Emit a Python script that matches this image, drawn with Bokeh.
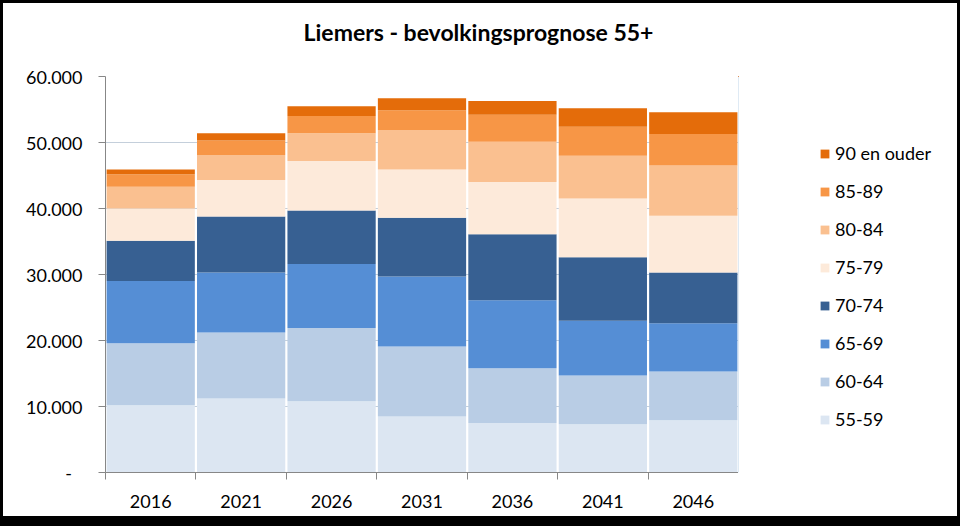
from bokeh.plotting import figure
from bokeh.layouts import row, column
from bokeh.models import Range1d, FixedTicker, Legend, LegendItem, ColumnDataSource, Label
from bokeh.embed import file_html
from bokeh.resources import INLINE

# ---- data ----
years = ["2016", "2021", "2026", "2031", "2036", "2041", "2046"]
groups = ["55-59", "60-64", "65-69", "70-74", "75-79", "80-84", "85-89", "90 en ouder"]
a55_59 = [10200, 11200, 10800, 8500, 7500, 7300, 7900]
a60_64 = [9400, 10000, 11100, 10600, 8300, 7400, 7400]
a65_69 = [9400, 9100, 9700, 10600, 10300, 8300, 7300]
a70_74 = [6100, 8500, 8100, 8900, 10000, 9600, 7700]
a75_79 = [4900, 5500, 7500, 7300, 7900, 8900, 8600]
a80_84 = [3300, 3800, 4200, 6000, 6100, 6500, 7600]
a85_89 = [1900, 2200, 2600, 3000, 4100, 4400, 4800]
a90_plus = [700, 1100, 1500, 1800, 2100, 2800, 3300]
y_ticks = [0, 10000, 20000, 30000, 40000, 50000, 60000]
title_text = "Liemers - bevolkingsprognose 55+"

colors = ["#DCE6F2", "#B9CDE5", "#558ED5", "#376092",
          "#FDEADA", "#FAC090", "#F79646", "#E46C0A"]
series = [a55_59, a60_64, a65_69, a70_74, a75_79, a80_84, a85_89, a90_plus]

xs = [i + 0.5 for i in range(len(years))]
data = {"x": xs}
keys = []
for i, s in enumerate(series):
    k = "s%d" % i
    keys.append(k)
    data[k] = s
src = ColumnDataSource(data)

FONT = "Lato"


def bare(fig):
    fig.grid.visible = False
    fig.outline_line_color = None
    fig.background_fill_alpha = 0
    fig.border_fill_alpha = 0


# ---- title strip ----
tp = figure(width=960, height=56, output_backend="svg", toolbar_location=None,
            x_range=Range1d(0, 960), y_range=Range1d(0, 56), title=None,
            x_axis_location=None, y_axis_location=None,
            min_border=0, min_border_left=0, min_border_right=0,
            min_border_top=0, min_border_bottom=0)
bare(tp)
tp.styles = {"background-color": "white",
             "box-shadow": "inset 3px 3px 0 0 black, inset -3px 0 0 0 black"}
tp.add_layout(Label(x=478, y=25, text=title_text, text_align="center",
                    text_baseline="alphabetic", text_font=FONT,
                    text_font_size="23px", text_font_style="bold",
                    text_color="black"))

# ---- main chart ----
p = figure(width=738, height=470, output_backend="svg", toolbar_location=None,
           x_range=Range1d(0, len(years)), y_range=Range1d(0, 60000), title=None,
           min_border_left=105, min_border_right=0, min_border_top=20,
           min_border_bottom=54)
p.outline_line_color = None
p.background_fill_color = "white"
p.border_fill_alpha = 0
p.styles = {"background-color": "white",
            "box-shadow": "inset 3px -10px 0 0 black"}

renderers = p.vbar_stack(keys, x="x", width=0.976, source=src,
                         color=colors, line_color=None)

p.xgrid.grid_line_color = None
p.ygrid.grid_line_color = "#C4CFDB"
p.ygrid.ticker = FixedTicker(ticks=y_ticks)

ya = p.yaxis[0]
ya.ticker = FixedTicker(ticks=y_ticks)
ya.major_label_overrides = {v: ("-\u2007" if v == 0 else f"{v:,}".replace(",", ".")) for v in y_ticks}
ya.axis_line_color = "#878787"
ya.major_tick_line_color = "#878787"
ya.major_tick_out = 7
ya.major_tick_in = 0
ya.minor_tick_line_color = None
ya.major_label_text_font = FONT
ya.major_label_text_font_size = "18px"
ya.major_label_text_color = "black"
ya.major_label_standoff = 16

xa = p.xaxis[0]
xa.ticker = FixedTicker(ticks=xs, minor_ticks=list(range(len(years) + 1)))
xa.major_label_overrides = {x: y for x, y in zip(xs, years)}
xa.axis_line_color = "#878787"
xa.major_tick_line_color = None
xa.major_tick_out = 0
xa.major_tick_in = 0
xa.minor_tick_line_color = "#878787"
xa.minor_tick_out = 7
xa.minor_tick_in = 0
xa.major_label_text_font = FONT
xa.major_label_text_font_size = "18px"
xa.major_label_text_color = "black"
xa.major_label_standoff = 15

# ---- legend panel ----
lp = figure(width=222, height=470, output_backend="svg", toolbar_location=None,
            x_range=Range1d(1000, 1001), y_range=Range1d(0, 1), title=None,
            x_axis_location=None, y_axis_location=None,
            min_border=0, min_border_left=0, min_border_right=0,
            min_border_top=0, min_border_bottom=0)
bare(lp)
lp.styles = {"background-color": "white",
             "box-shadow": "inset -3px -10px 0 0 black"}
leg_renderers = lp.vbar_stack(keys, x="x", width=0.976, source=src,
                              color=colors, line_color=None)

items = [LegendItem(label=g, renderers=[r]) for g, r in zip(groups, leg_renderers)][::-1]
legend = Legend(items=items, location=(81, 42), orientation="vertical",
                glyph_width=11, glyph_height=11, label_height=22, spacing=16,
                label_standoff=5, padding=0, margin=0,
                border_line_color=None, background_fill_alpha=0,
                label_text_font=FONT, label_text_font_size="18px",
                label_text_color="black")
lp.add_layout(legend, "center")

layout = column(tp, row(p, lp))

open("out.html", "w").write(file_html(layout, INLINE))
